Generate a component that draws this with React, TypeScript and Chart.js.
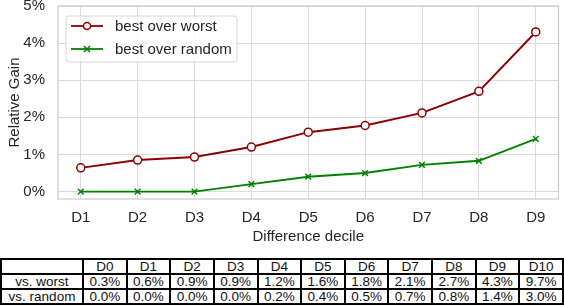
import React, { useEffect, useRef } from 'react';
import { Chart, registerables } from 'chart.js';

Chart.register(...registerables);

const categories = ['D1', 'D2', 'D3', 'D4', 'D5', 'D6', 'D7', 'D8', 'D9'];
const worstValues = [0.64, 0.85, 0.93, 1.2, 1.6, 1.78, 2.12, 2.7, 4.3];
const randomValues = [0, 0, 0, 0.2, 0.4, 0.5, 0.72, 0.83, 1.42];
const yTicks = [0, 1, 2, 3, 4, 5];
const seriesLabels = ['best over worst', 'best over random'];

const tableHeaders = ['D0', 'D1', 'D2', 'D3', 'D4', 'D5', 'D6', 'D7', 'D8', 'D9', 'D10'];
const tableRowLabels = ['vs. worst', 'vs. random'];
const tableWorst = ['0.3%', '0.6%', '0.9%', '0.9%', '1.2%', '1.6%', '1.8%', '2.1%', '2.7%', '4.3%', '9.7%'];
const tableRandom = ['0.0%', '0.0%', '0.0%', '0.0%', '0.2%', '0.4%', '0.5%', '0.7%', '0.8%', '1.4%', '3.0%'];

const RED = '#8b0000';
const GREEN = '#008000';
const FONT = "'Liberation Sans', Arial, sans-serif";
const TEXT = '#262626';

const framePlugin = {
  id: 'frame',
  beforeDatasetsDraw(chart: any) {
    const { ctx, chartArea } = chart;
    ctx.save();
    ctx.strokeStyle = '#cccccc';
    ctx.lineWidth = 1.25;
    ctx.strokeRect(chartArea.left, chartArea.top, chartArea.right - chartArea.left, chartArea.bottom - chartArea.top);
    ctx.restore();
  },
};

const legendPlugin = {
  id: 'innerLegend',
  afterDatasetsDraw(chart: any) {
    const { ctx } = chart;
    const x0 = 66, y0 = 16, w = 171, h = 46, r = 3;
    ctx.save();
    ctx.beginPath();
    ctx.moveTo(x0 + r, y0);
    ctx.lineTo(x0 + w - r, y0);
    ctx.arcTo(x0 + w, y0, x0 + w, y0 + r, r);
    ctx.lineTo(x0 + w, y0 + h - r);
    ctx.arcTo(x0 + w, y0 + h, x0 + w - r, y0 + h, r);
    ctx.lineTo(x0 + r, y0 + h);
    ctx.arcTo(x0, y0 + h, x0, y0 + h - r, r);
    ctx.lineTo(x0, y0 + r);
    ctx.arcTo(x0, y0, x0 + r, y0, r);
    ctx.closePath();
    ctx.fillStyle = 'rgba(255,255,255,0.85)';
    ctx.fill();
    ctx.strokeStyle = '#d6d6d6';
    ctx.lineWidth = 1;
    ctx.stroke();
    const rows = [26, 49];
    chart.data.datasets.forEach((ds: any, i: number) => {
      const y = rows[i];
      ctx.strokeStyle = ds.borderColor;
      ctx.lineWidth = 1.8;
      ctx.beginPath();
      ctx.moveTo(71, y);
      ctx.lineTo(103, y);
      ctx.stroke();
      ctx.lineWidth = 1.5;
      if (i === 0) {
        ctx.beginPath();
        ctx.arc(87, y, 3.5, 0, Math.PI * 2);
        ctx.fillStyle = '#ffffff';
        ctx.fill();
        ctx.stroke();
      } else {
        ctx.beginPath();
        ctx.moveTo(84, y - 3);
        ctx.lineTo(90, y + 3);
        ctx.moveTo(84, y + 3);
        ctx.lineTo(90, y - 3);
        ctx.stroke();
      }
      ctx.fillStyle = TEXT;
      ctx.font = `15px ${FONT}`;
      ctx.textBaseline = 'middle';
      ctx.textAlign = 'left';
      ctx.fillText(ds.label, 115, y + 1);
    });
    ctx.restore();
  },
};

function ChartCanvas() {
  const ref = useRef<HTMLCanvasElement>(null);
  useEffect(() => {
    if (!ref.current) return;
    const chart = new Chart(ref.current, {
      type: 'line',
      data: {
        datasets: [
          {
            label: seriesLabels[0],
            data: worstValues.map((v, i) => ({ x: i, y: v })),
            borderColor: RED,
            borderWidth: 1.9,
            pointStyle: 'circle',
            pointRadius: 4,
            pointBackgroundColor: '#ffffff',
            pointBorderColor: RED,
            pointBorderWidth: 1.5,
          },
          {
            label: seriesLabels[1],
            data: randomValues.map((v, i) => ({ x: i, y: v })),
            borderColor: GREEN,
            borderWidth: 1.9,
            pointStyle: 'crossRot',
            pointRadius: 4,
            pointBorderColor: GREEN,
            pointBorderWidth: 1.5,
          },
        ],
      },
      options: {
        animation: false,
        responsive: false,
        layout: { padding: { top: 6, right: 2, left: 0, bottom: 0 } },
        plugins: { legend: { display: false }, tooltip: { enabled: false } },
        scales: {
          x: {
            type: 'linear',
            min: -0.4,
            max: 8.4,
            afterBuildTicks: (scale: any) => {
              scale.ticks = categories.map((_, i) => ({ value: i }));
            },
            afterFit: (scale: any) => {
              scale.height = 51;
              scale.paddingLeft = 0;
              scale.paddingRight = 0;
            },
            ticks: {
              callback: (v: any) => categories[v] ?? '',
              font: { size: 15, family: FONT },
              color: TEXT,
              padding: 10,
              maxRotation: 0,
            },
            grid: { color: '#dcdcdc', lineWidth: 1, drawTicks: false },
            border: { display: false },
            title: {
              display: true,
              text: 'Difference decile',
              font: { size: 15, family: FONT },
              color: TEXT,
              padding: { top: 0, bottom: 4 },
            },
          },
          y: {
            min: -0.2,
            max: 5,
            afterBuildTicks: (scale: any) => {
              scale.ticks = yTicks.map((v) => ({ value: v }));
            },
            afterFit: (scale: any) => {
              scale.width = 58;
              scale.paddingTop = 0;
              scale.paddingBottom = 0;
            },
            ticks: {
              callback: (v: any) => `${v}%`,
              font: { size: 15, family: FONT },
              color: TEXT,
              padding: 13,
            },
            grid: { color: '#dcdcdc', lineWidth: 1, drawTicks: false },
            border: { display: false },
            title: {
              display: true,
              text: 'Relative Gain',
              font: { size: 15, family: FONT },
              color: TEXT,
              padding: { top: 6, bottom: 0 },
            },
          },
        },
      },
      plugins: [framePlugin, legendPlugin],
    } as any);
    return () => chart.destroy();
  }, []);
  return <canvas ref={ref} width={564} height={250} style={{ display: 'block', width: 564, height: 250 }} />;
}

const cellStyle: React.CSSProperties = {
  border: '1px solid #000',
  padding: 0,
  height: 13,
  lineHeight: '13px',
  fontSize: 13.5,
  textAlign: 'center',
  color: '#111',
  overflow: 'hidden',
  whiteSpace: 'nowrap',
};

export default function App() {
  const rows = [tableWorst, tableRandom];
  return (
    <div style={{ position: 'absolute', left: 0, top: 0, width: 564, height: 308, background: '#fff', fontFamily: FONT }}>
      <ChartCanvas />
      <table
        style={{
          position: 'absolute',
          left: 0,
          top: 258,
          width: 564,
          borderCollapse: 'separate',
          borderSpacing: 0,
          border: '1px solid #000',
          tableLayout: 'fixed',
        }}
      >
        <colgroup>
          <col style={{ width: 82 }} />
          {tableHeaders.map((h) => (
            <col key={h} />
          ))}
        </colgroup>
        <tbody>
          <tr>
            <td style={cellStyle}></td>
            {tableHeaders.map((h) => (
              <td key={h} style={cellStyle}>{h}</td>
            ))}
          </tr>
          {rows.map((row, ri) => (
            <tr key={ri}>
              <td style={cellStyle}>{tableRowLabels[ri]}</td>
              {row.map((v, i) => (
                <td key={i} style={cellStyle}>{v}</td>
              ))}
            </tr>
          ))}
        </tbody>
      </table>
    </div>
  );
}
